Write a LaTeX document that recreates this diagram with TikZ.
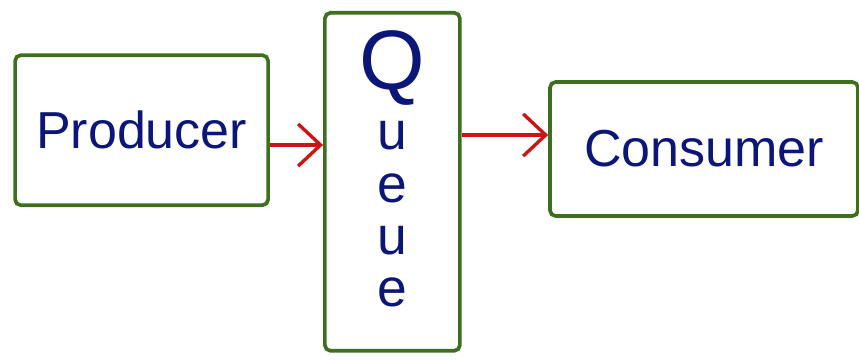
\documentclass[tikz,border=0pt]{standalone}
\usepackage{fontspec}
\setmainfont{Liberation Sans}
\usetikzlibrary{positioning,arrows.meta}
\definecolor{boxgreen}{RGB}{60,112,30}
\definecolor{inkblue}{RGB}{12,22,120}
\definecolor{arrowred}{RGB}{205,20,20}
\tikzset{
  box/.style={draw=boxgreen, line width=2.6pt, rounded corners=4pt, inner sep=0pt,
    text=inkblue, font=\fontsize{37}{40}\selectfont},
  flow/.style={draw=arrowred, line width=2.4pt, ->, >={Straight Barb[length=16pt,width=30pt]}}
}
\begin{document}
\begin{tikzpicture}
				%%%%% START %%%%%
				\useasboundingbox (0, 0) rectangle (21.475, 8.975);
				
				\node[box, minimum width=3.375cm, minimum height=8.45cm] (queue) at (9.81, 4.43) {};
				\node[text=inkblue, inner sep=0pt, align=center, font=\fontsize{38}{37}\selectfont]
				      (queuetext) at ([yshift=0.33cm]queue.center)
				      {{\fontsize{60}{60}\selectfont Q}\\[6pt]u\\e\\u\\e};
				
				\node[box, minimum width=6.325cm, minimum height=3.75cm] (producer) at (3.54, 5.72) {Producer};
				
				\node[box, minimum width=7.7cm, minimum height=3.35cm] (consumer) at (17.6, 5.25) {Consumer};
				
				\draw[flow] ([yshift=-0.37cm]producer.east) -- ([yshift=-0.37cm]producer.east -| queue.west);
				\draw[flow] ([yshift=0.35cm]consumer.west -| queue.east) -- ([yshift=0.35cm]consumer.west);
				%%%%% END %%%%%
\end{tikzpicture}
\end{document}
